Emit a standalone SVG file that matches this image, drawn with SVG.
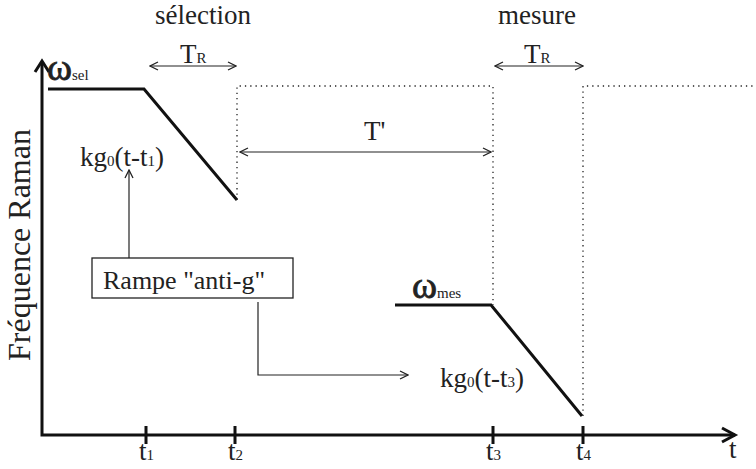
<svg xmlns="http://www.w3.org/2000/svg" width="756" height="469" viewBox="0 0 756 469">
<style>
text{font-family:"Liberation Serif","Times New Roman",serif;fill:#222}
.t{font-size:27px}
.s{font-size:15px}
.w{font-size:38px;stroke:#222;stroke-width:0.8}
.axis{stroke:#111;stroke-width:3;fill:none}
.ramp{stroke:#111;stroke-width:3;fill:none}
.thin{stroke:#222;stroke-width:1.2;fill:none}
.dot{stroke:#222;stroke-width:1.3;fill:none;stroke-dasharray:1.3 4}
</style>
<defs>
<marker id="ah" viewBox="0 0 10 10" refX="9" refY="5" markerWidth="10" markerHeight="10" markerUnits="userSpaceOnUse" orient="auto-start-reverse">
<path d="M1,1 L9,5 L1,9" fill="none" stroke="#222" stroke-width="1.3"/>
</marker>
</defs>
<g id="axes">
<polyline class="axis" points="42,62 42,435 735,435"/>
<path class="axis" d="M35,72 L42,61 L49,72"/>
<path class="axis" d="M722,428 L735,435 L722,442"/>
<path class="axis" d="M146,426V444M235,426V444M493,426V444M583,426V444"/>
<text x="20" y="245" text-anchor="middle" transform="rotate(-90 20 245)" dy="10" style="font-size:32px">Fréquence Raman</text>
<text class="t" x="139" y="460">t<tspan class="s">1</tspan></text>
<text class="t" x="228" y="460">t<tspan class="s">2</tspan></text>
<text class="t" x="486" y="460">t<tspan class="s">3</tspan></text>
<text class="t" x="576" y="460">t<tspan class="s">4</tspan></text>
<text class="t" x="729" y="458">t</text>
</g>
<g id="selection">
<text class="t" x="203" y="24" text-anchor="middle">sélection</text>
<polyline class="ramp" points="48,89 144,89 237,200"/>
<text x="47" y="80"><tspan class="w">ω</tspan><tspan class="s">sel</tspan></text>
<text class="t" x="80" y="166">kg<tspan class="s">0</tspan>(t-t<tspan class="s">1</tspan>)</text>
</g>
<g id="mesure">
<text class="t" x="537" y="24" text-anchor="middle">mesure</text>
<polyline class="ramp" points="395,305 491,305 582,416"/>
<text x="412" y="298"><tspan class="w">ω</tspan><tspan class="s">mes</tspan></text>
<text class="t" x="440" y="387">kg<tspan class="s">0</tspan>(t-t<tspan class="s">3</tspan>)</text>
</g>
<g id="dotted">
<polyline class="dot" points="237,200 237,86 493,86 493,305"/>
<polyline class="dot" points="583,416 583,86 756,86"/>
</g>
<g id="box">
<rect x="92" y="258" width="201" height="40" fill="#fff" stroke="#222" stroke-width="1.3"/>
<text x="103" y="289" style="font-size:26px">Rampe "anti-g"</text>
</g>
<g id="connectors">
<line class="thin" x1="150" y1="66" x2="236" y2="66" marker-start="url(#ah)" marker-end="url(#ah)"/>
<text class="t" x="180" y="63">T<tspan class="s">R</tspan></text>
<line class="thin" x1="495" y1="66" x2="583" y2="66" marker-start="url(#ah)" marker-end="url(#ah)"/>
<text class="t" x="524" y="63">T<tspan class="s">R</tspan></text>
<line class="thin" x1="240" y1="152" x2="491" y2="152" marker-start="url(#ah)" marker-end="url(#ah)"/>
<text class="t" x="364" y="140">T'</text>
<line class="thin" x1="129" y1="258" x2="129" y2="170" marker-end="url(#ah)"/>
<polyline class="thin" points="258,302 258,375 408,375" marker-end="url(#ah)"/>
</g>
</svg>
